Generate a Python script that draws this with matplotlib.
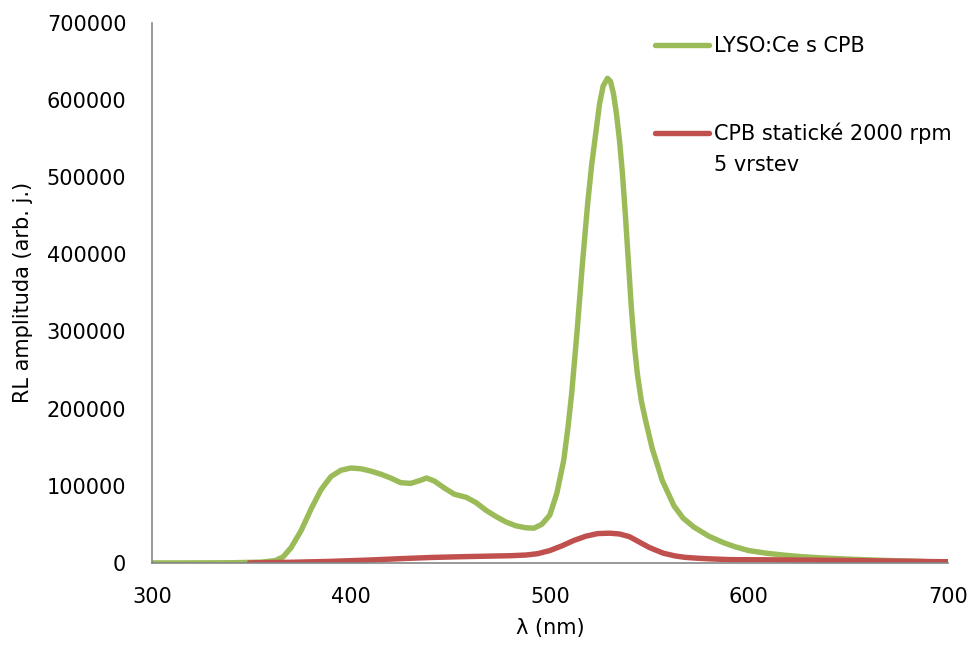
import numpy as np
import matplotlib
matplotlib.use("Agg")
import matplotlib.pyplot as plt

plt.rcParams['font.family'] = ['DejaVu Sans']

# LYSO:Ce s CPB (green)
wl_lyso = [300, 320, 340, 355, 362, 366, 370, 375, 380, 385, 390, 395, 400, 405,
           410, 415, 420, 425, 430, 435, 438, 442, 447, 452, 458, 463, 468, 473,
           478, 483, 488, 492, 496, 500, 503.5, 507, 509.2, 511, 513.7, 516.3,
           519, 521, 523, 525, 526.8, 529, 530.5, 532, 533.5, 535, 536.5, 538,
           539.5, 541, 542.5, 544, 546, 548.1, 551.5, 556.5, 562.4, 567, 572.4,
           580, 587.5, 593, 600, 609, 618, 626, 638, 651, 665, 676, 688]
rl_lyso = [0, 0, 200, 1000, 3000, 8000, 20000, 42000, 70000, 95000, 112000, 120000,
           123000, 122000, 119000, 115000, 110000, 104000, 103000, 107000, 110000,
           106000, 97000, 89000, 85000, 78000, 68000, 60000, 53000, 48000, 45500,
           45000, 50000, 62000, 90000, 133000, 177000, 220000, 300000, 385000,
           465000, 515000, 555000, 595000, 618000, 628000, 624000, 608000, 582000,
           548000, 505000, 450000, 390000, 330000, 282000, 245000, 210000, 185000,
           148000, 107000, 74000, 58000, 46500, 34500, 26000, 21000, 16000, 12500,
           10000, 8200, 6300, 4800, 3500, 2600, 1800]

# CPB statické 2000 rpm 5 vrstev (red)
wl_cpb = [349, 370, 390, 410, 425, 440, 455, 470, 480, 488, 494, 500, 506, 512,
          518, 524, 530, 535, 540, 545, 550, 557, 563, 568, 574, 580, 591, 610,
          630, 650, 670, 690, 700]
rl_cpb = [0, 800, 2000, 3800, 5500, 7000, 8000, 8800, 9300, 10200, 12000, 16000,
          22000, 29000, 34500, 38000, 38500, 37500, 34000, 27000, 20000, 12600,
          9000, 7200, 6100, 5300, 4200, 4000, 3600, 3100, 2500, 1800, 1500]

fig = plt.figure(figsize=(9.68, 6.5), dpi=100)
ax = fig.add_axes([0.157, 0.134, 0.822, 0.831])

ax.plot(wl_lyso, rl_lyso, color='#9BBB59', lw=3.9, solid_capstyle='round',
        solid_joinstyle='round', label='LYSO:Ce s CPB')
ax.plot(wl_cpb, rl_cpb, color='#C0504D', lw=3.9, solid_capstyle='round',
        solid_joinstyle='round', label='CPB statické 2000 rpm\n5 vrstev')

ax.set_xlim(300, 700)
ax.set_ylim(0, 700000)
ax.set_xticks(np.arange(300, 701, 100))
ax.set_yticks(np.arange(0, 700001, 100000))
ax.tick_params(axis='both', length=0, labelsize=15)
ax.tick_params(axis='x', pad=17)
ax.tick_params(axis='y', pad=18.5)

for s in ['top', 'right']:
    ax.spines[s].set_visible(False)
for s in ['left', 'bottom']:
    ax.spines[s].set_color('#868686')
    ax.spines[s].set_linewidth(1.2)

ax.set_xlabel('λ (nm)', fontsize=15, labelpad=8)
ax.set_ylabel('RL amplituda (arb. j.)', fontsize=15, labelpad=10)

leg = ax.legend(loc='upper left', bbox_to_anchor=(655 / 968, 1 - 36 / 650),
                bbox_transform=fig.transFigure, frameon=False, fontsize=15,
                handlelength=2.6, handletextpad=0.25, labelspacing=3.2,
                borderpad=0, borderaxespad=0)
leg.get_texts()[1].set_linespacing(1.65)
# put the red handle level with the first line of its two-line label
red = leg.get_lines()[1]
red.set_ydata(np.asarray(red.get_ydata()) + 12)
for ln in leg.get_lines():
    ln.set_solid_capstyle('round')

fig.savefig('out.png', dpi=100)
